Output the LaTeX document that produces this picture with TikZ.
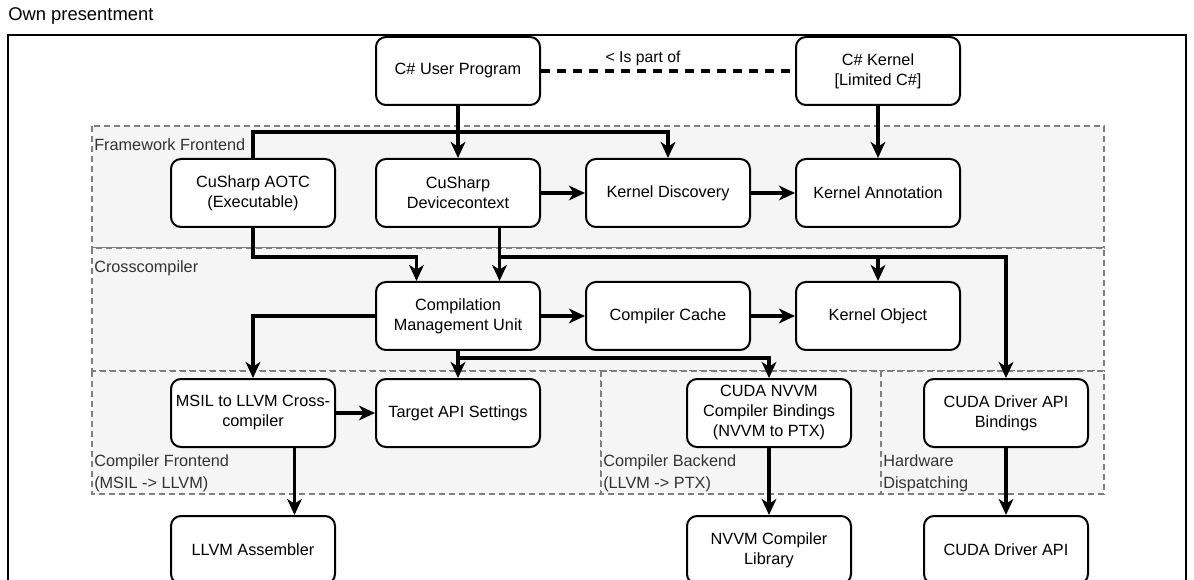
\documentclass[tikz,border=0pt]{standalone}
\usepackage{fontspec}
\setmainfont{Liberation Sans}
\usetikzlibrary{arrows.meta,calc}
\definecolor{bandfill}{HTML}{F5F5F5}
\definecolor{banddraw}{HTML}{7F7F7F}
\definecolor{bandtext}{HTML}{333333}
\tikzset{
  box/.style={draw, rounded corners=7.5pt, minimum width=123pt, minimum height=51pt,
    align=center, fill=white, line width=1.5pt, inner sep=2pt,
    font=\fontsize{12.2}{15}\selectfont},
  band/.style={draw=banddraw, fill=bandfill, line width=0.8pt, dash pattern=on 4.5pt off 3pt},
  bandlbl/.style={text=bandtext, inner sep=0pt, align=left, font=\fontsize{12.2}{16.5}\selectfont},
  conn/.style={line width=2.5pt},
  arr/.style={line width=2.5pt, -{Stealth[length=12pt,width=11pt,inset=3.5pt]}},
  partof/.style={line width=2.5pt, dash pattern=on 7pt off 5pt},
}
\begin{document}
\begin{tikzpicture}[x=0.75pt,y=-0.75pt]
\useasboundingbox (0,0) rectangle (1194,580);
\clip (0,0) rectangle (1194,580);

% title
\node[anchor=base west, inner sep=0pt, font=\fontsize{13.8}{16}\selectfont] (title) at (8,20.5) {Own presentment};

% outer frame
\draw[line width=1.2pt] (8,35) rectangle (1186,700);

% bands
\draw[band] (92,126) rectangle (1104,248);
\draw[band] (92,248) rectangle (1104,371);
\draw[band] (92,371) rectangle (601,494);
\draw[band] (601,371) rectangle (881,494);
\draw[band] (881,371) rectangle (1104,494);

\node[bandlbl, anchor=base west] (lff) at (94,151) {Framework Frontend};
\node[bandlbl, anchor=base west] (lcc) at (94,273) {Crosscompiler};
\node[bandlbl, anchor=base west] (lcf) at (94,488) {Compiler Frontend\\(MSIL -> LLVM)};
\node[bandlbl, anchor=base west] (lcb) at (603,488) {Compiler Backend\\(LLVM -> PTX)};
\node[bandlbl, anchor=base west] (lhd) at (883,488) {Hardware\\Dispatching};

% nodes
\node[box] (up)    at (458,71)  {C\# User Program};
\node[box] (ker)   at (878,71)  {C\# Kernel\\{[}Limited C\#{]}};
\node[box] (aotc)  at (253,193) {CuSharp AOTC\\(Executable)};
\node[box] (dev)   at (458,193) {CuSharp\\Devicecontext};
\node[box] (kd)    at (668,193) {Kernel Discovery};
\node[box] (ka)    at (878,193) {Kernel Annotation};
\node[box] (cmu)   at (458,316) {Compilation\\Management Unit};
\node[box] (cc)    at (668,316) {Compiler Cache};
\node[box] (ko)    at (878,316) {Kernel Object};
\node[box] (msil)  at (253,413) {MSIL to LLVM Cross-\\compiler};
\node[box] (tapi)  at (458,413) {Target API Settings};
\node[box] (nvvm)  at (769,413) {CUDA NVVM\\Compiler Bindings\\(NVVM to PTX)};
\node[box] (cdab)  at (1006,413) {CUDA Driver API\\Bindings};
\node[box] (llvm)  at (253,550) {LLVM Assembler};
\node[box] (nvlib) at (769,550) {NVVM Compiler\\Library};
\node[box] (cda)   at (1006,550) {CUDA Driver API};

% helper coordinates
\coordinate (j1) at ($(up.south)+(0,26)$);
\coordinate (devB) at ($(dev.south)!.5!(dev.south east)$);
\coordinate (cmuA) at ($(cmu.north)!.5!(cmu.north west)$);
\coordinate (cmuB) at ($(cmu.north)!.5!(cmu.north east)$);
\coordinate (msilB) at ($(msil.south)!.5!(msil.south east)$);

% dashed relation
\draw[partof] (up) -- (ker);
\node[font=\fontsize{11.8}{14}\selectfont, inner sep=0pt] (lbl) at (643,58) {< Is part of};

% connectors
\draw[arr] (up) -- (dev);
\draw[conn] (up.south) -- (j1) -| (aotc.north);
\draw[arr] (j1) -| (kd.north);
\draw[arr] (ker) -- (ka);
\draw[arr] (dev) -- (kd);
\draw[arr] (kd) -- (ka);

\draw[arr] (aotc.south) -- ++(0,29) -| (cmuA);
\draw[arr] (devB) -- (cmuB);
\draw[arr] (devB) -- ++(0,29) -| (ko.north);
\draw[arr] (devB) -- ++(0,29) -| (cdab.north);

\draw[arr] (cmu) -- (cc);
\draw[arr] (cc) -- (ko);
\draw[arr] (cmu.west) -| (msil.north);
\draw[arr] (cmu) -- (tapi);
\draw[arr] (cmu.south) -- ++(0,7) -| (nvvm.north);

\draw[arr] (msil) -- (tapi);
\draw[arr] (msilB) -- (msilB |- llvm.north);
\draw[arr] (nvvm) -- (nvlib);
\draw[arr] (cdab) -- (cda);
\end{tikzpicture}
\end{document}
